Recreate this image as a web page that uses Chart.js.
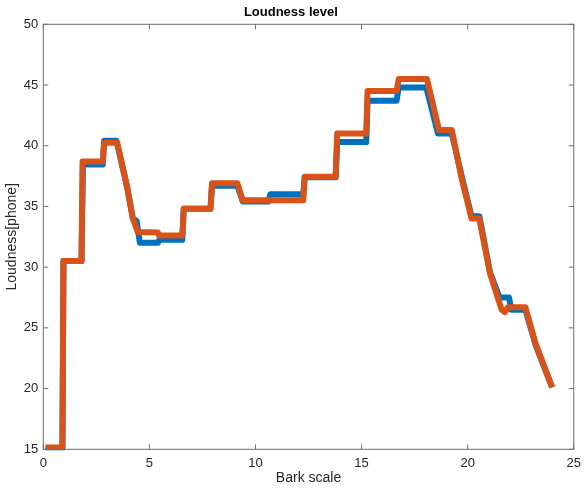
<!DOCTYPE html>
<html>
<head>
<meta charset="utf-8">
<script src="https://cdn.jsdelivr.net/npm/chart.js@4"></script>
<style>
  html, body { margin: 0; padding: 0; background: #fff; }
  #wrap { width: 587px; height: 488px; }
</style>
</head>
<body>
<div id="wrap"><canvas id="myChart" width="587" height="488"></canvas></div>
<script>
// bark positions and loudness (phon)
const barkBlue = [0.1, 0.9, 0.95, 1.8, 1.87, 2.8, 2.87, 3.45, 3.95, 4.22, 4.4, 4.55, 5.4, 5.47, 6.55, 6.62, 7.88, 7.95, 9.15, 9.4, 10.62, 10.7, 12.25, 12.32, 13.78, 13.85, 15.22, 15.28, 16.65, 16.75, 18.05, 18.6, 19.25, 19.73, 20.18, 20.55, 21.05, 21.5, 21.95, 22.05, 22.72, 23.2, 23.98];
const loudBlue = [15.0, 15.0, 30.5, 30.5, 38.45, 38.45, 40.4, 40.4, 36.6, 34.0, 33.8, 32.0, 32.0, 32.25, 32.25, 34.8, 34.8, 36.7, 36.7, 35.4, 35.4, 36.0, 36.0, 37.4, 37.4, 40.3, 40.3, 43.7, 43.7, 44.8, 44.8, 41.0, 41.0, 37.4, 34.2, 34.2, 29.6, 27.5, 27.5, 26.5, 26.5, 23.6, 20.1];

const barkOrange = [0.1, 0.9, 0.95, 1.8, 1.85, 2.8, 2.87, 3.48, 3.95, 4.22, 4.45, 5.4, 5.45, 6.55, 6.62, 7.88, 7.95, 9.15, 9.4, 12.25, 12.32, 13.78, 13.85, 15.22, 15.28, 16.65, 16.75, 18.08, 18.65, 19.25, 19.73, 20.18, 20.55, 21.05, 21.6, 21.75, 21.9, 22.72, 23.2, 23.98];
const loudOrange = [15.15, 15.15, 30.5, 30.5, 38.7, 38.7, 40.25, 40.25, 36.6, 34.0, 32.9, 32.85, 32.6, 32.6, 34.8, 34.8, 36.9, 36.9, 35.5, 35.5, 37.45, 37.45, 41.0, 41.0, 44.5, 44.5, 45.5, 45.5, 41.3, 41.3, 37.2, 34.0, 34.0, 29.5, 26.5, 26.3, 26.7, 26.7, 23.7, 20.1];

const xTicks = [0, 5, 10, 15, 20, 25];
const yTicks = [15, 20, 25, 30, 35, 40, 45, 50];

const toPoints = (xs, ys) => xs.map((x, i) => ({ x: x, y: ys[i] }));

const textColor = '#262626';
const axisColor = '#6e6e6e';

// MATLAB style box with inward tick marks
const boxPlugin = {
  id: 'box',
  afterDraw(chart) {
    const { ctx, chartArea: a, scales } = chart;
    const xs = scales.x, ys = scales.y;
    const len = 5;
    ctx.save();
    ctx.strokeStyle = axisColor;
    ctx.lineWidth = 1;
    ctx.strokeRect(a.left, a.top, a.right - a.left, a.bottom - a.top);
    ctx.beginPath();
    xTicks.forEach(v => {
      const px = xs.getPixelForValue(v);
      ctx.moveTo(px, a.bottom); ctx.lineTo(px, a.bottom - len);
      ctx.moveTo(px, a.top); ctx.lineTo(px, a.top + len);
    });
    yTicks.forEach(v => {
      const py = ys.getPixelForValue(v);
      ctx.moveTo(a.left, py); ctx.lineTo(a.left + len, py);
      ctx.moveTo(a.right, py); ctx.lineTo(a.right - len, py);
    });
    ctx.stroke();
    ctx.restore();
  }
};

const ctx = document.getElementById('myChart').getContext('2d');
const myChart = new Chart(ctx, {
  type: 'line',
  data: {
    datasets: [
      {
        label: 'Loudness 2',
        data: toPoints(barkOrange, loudOrange),
        borderColor: '#D95319',
        borderWidth: 6,
        borderJoinStyle: 'round',
        pointRadius: 0,
        fill: false,
        tension: 0,
        clip: 1
      },
      {
        label: 'Loudness 1',
        data: toPoints(barkBlue, loudBlue),
        borderColor: '#0072BD',
        borderWidth: 6,
        borderJoinStyle: 'round',
        pointRadius: 0,
        fill: false,
        tension: 0,
        clip: 1
      }
    ]
  },
  options: {
    responsive: false,
    animation: false,
    events: [],
    layout: { padding: { left: 0, right: 5.3, top: 0, bottom: 0 } },
    plugins: {
      legend: { display: false },
      tooltip: { enabled: false },
      title: {
        display: true,
        text: 'Loudness level',
        color: '#000',
        font: { family: 'Liberation Sans', size: 13, weight: 'bold', lineHeight: 1.2 },
        padding: { top: 5, bottom: 3.7 }
      }
    },
    scales: {
      x: {
        type: 'linear',
        min: 0,
        max: 25,
        afterBuildTicks: s => { s.ticks = xTicks.map(v => ({ value: v })); },
        afterFit: s => { s.height = 38.7; },
        grid: { display: false, drawTicks: false },
        border: { display: false },
        ticks: {
          color: textColor,
          padding: 6,
          maxRotation: 0,
          font: { family: 'Liberation Sans', size: 13 }
        },
        title: {
          display: true,
          text: 'Bark scale',
          color: textColor,
          font: { family: 'Liberation Sans', size: 14, lineHeight: 1.2 },
          padding: { top: 0, bottom: 1 }
        }
      },
      y: {
        type: 'linear',
        min: 15,
        max: 50,
        afterBuildTicks: s => { s.ticks = yTicks.map(v => ({ value: v })); },
        afterFit: s => { s.width = 43.3; },
        grid: { display: false, drawTicks: false },
        border: { display: false },
        ticks: {
          color: textColor,
          padding: 5,
          font: { family: 'Liberation Sans', size: 13 }
        },
        title: {
          display: true,
          text: 'Loudness[phone]',
          color: textColor,
          font: { family: 'Liberation Sans', size: 14, lineHeight: 1.2 },
          padding: { top: 4, bottom: 0 }
        }
      }
    }
  },
  plugins: [boxPlugin]
});
</script>
</body>
</html>
